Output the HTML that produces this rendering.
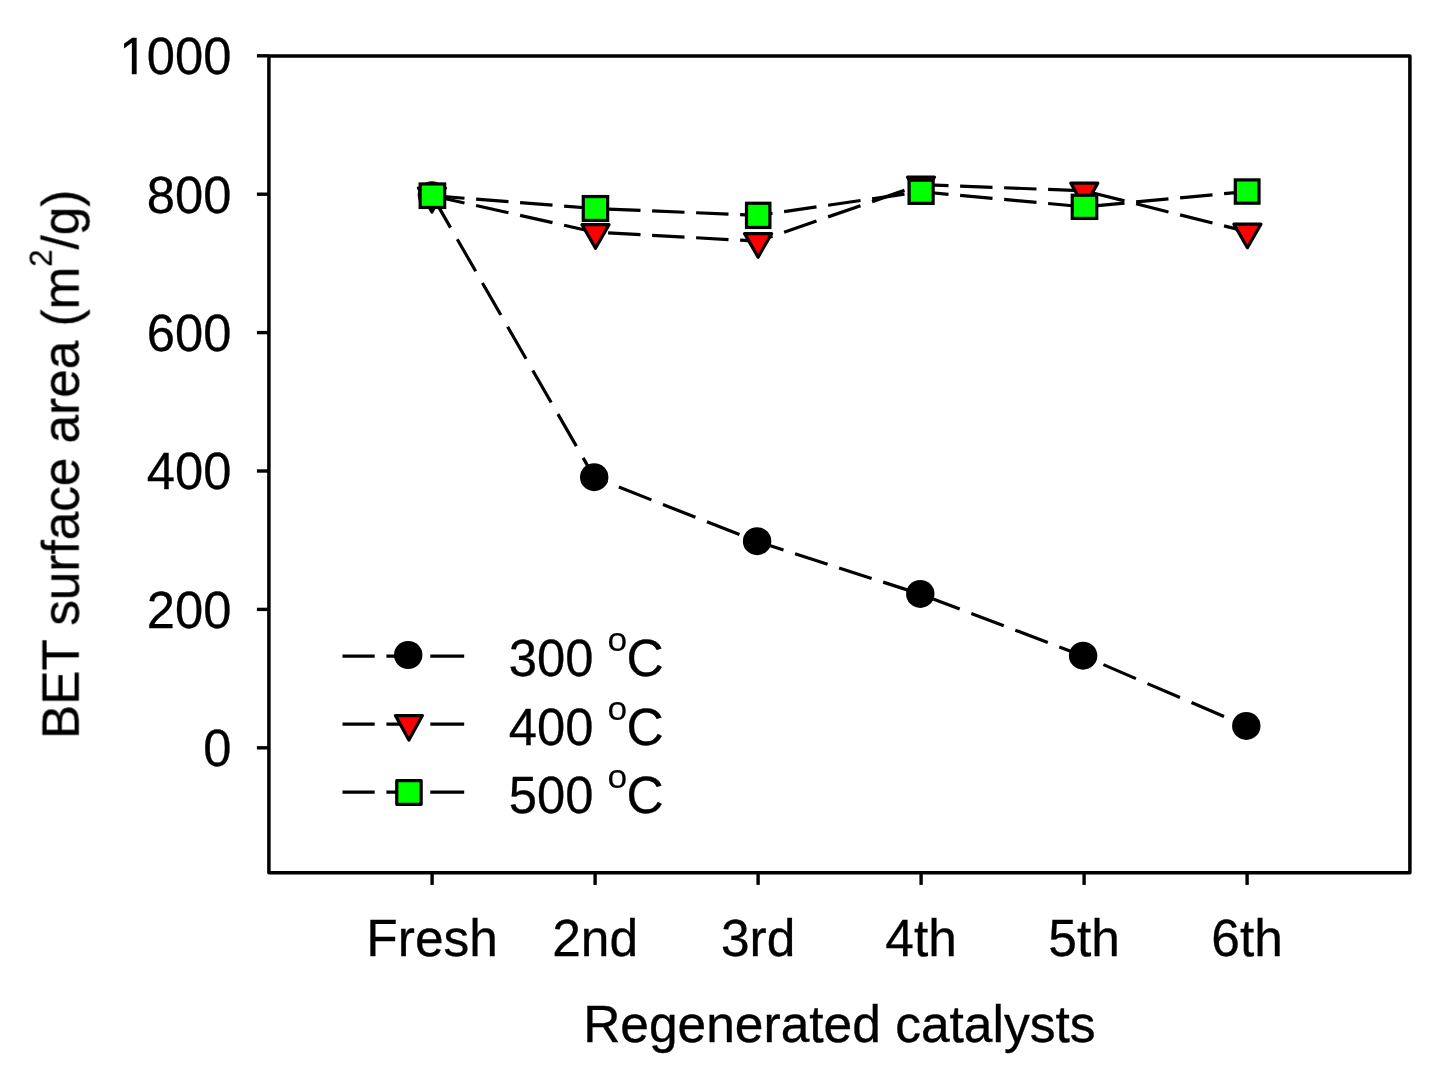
<!DOCTYPE html>
<html lang="en"><head><meta charset="utf-8"><title>BET surface area of regenerated catalysts</title>
<style>
html,body{margin:0;padding:0;background:#fff;}
body{width:1438px;height:1065px;overflow:hidden;}
svg{display:block;}
text{font-family:"Liberation Sans",Arial,Helvetica,sans-serif;fill:#000;stroke:#000;stroke-width:0.5px;}
</style></head><body>
<svg width="1438" height="1065" viewBox="0 0 1438 1065">
<rect x="0" y="0" width="1438" height="1065" fill="#fff"/>
<defs><clipPath id="one"><rect x="100" y="20" width="60" height="49.9"/><rect x="131.8" y="69" width="4.85" height="8"/><rect x="146" y="20" width="100" height="70"/></clipPath></defs>
<g style="will-change:opacity">

<rect x="268.9" y="55.9" width="1141.0" height="816.9" fill="none" stroke="#000" stroke-width="3.5" stroke-linejoin="round"/>
<line x1="256.9" y1="747.8" x2="268.9" y2="747.8" stroke="#000" stroke-width="3.4"/>
<line x1="256.9" y1="609.4" x2="268.9" y2="609.4" stroke="#000" stroke-width="3.4"/>
<line x1="256.9" y1="471.0" x2="268.9" y2="471.0" stroke="#000" stroke-width="3.4"/>
<line x1="256.9" y1="332.6" x2="268.9" y2="332.6" stroke="#000" stroke-width="3.4"/>
<line x1="256.9" y1="194.2" x2="268.9" y2="194.2" stroke="#000" stroke-width="3.4"/>
<line x1="256.9" y1="55.8" x2="268.9" y2="55.8" stroke="#000" stroke-width="3.4"/>
<line x1="432.1" y1="872.8" x2="432.1" y2="884.9" stroke="#000" stroke-width="3.4"/>
<line x1="595.1" y1="872.8" x2="595.1" y2="884.9" stroke="#000" stroke-width="3.4"/>
<line x1="758.1" y1="872.8" x2="758.1" y2="884.9" stroke="#000" stroke-width="3.4"/>
<line x1="921.1" y1="872.8" x2="921.1" y2="884.9" stroke="#000" stroke-width="3.4"/>
<line x1="1084.1" y1="872.8" x2="1084.1" y2="884.9" stroke="#000" stroke-width="3.4"/>
<line x1="1247.1" y1="872.8" x2="1247.1" y2="884.9" stroke="#000" stroke-width="3.4"/>
<text transform="translate(231.4,766.2) scale(0.985,1.02)" font-size="51.5" text-anchor="end" style="stroke-width:0.3px">0</text>
<text transform="translate(231.4,627.8) scale(0.985,1.02)" font-size="51.5" text-anchor="end" style="stroke-width:0.3px">200</text>
<text transform="translate(231.4,489.4) scale(0.985,1.02)" font-size="51.5" text-anchor="end" style="stroke-width:0.3px">400</text>
<text transform="translate(231.4,351.0) scale(0.985,1.02)" font-size="51.5" text-anchor="end" style="stroke-width:0.3px">600</text>
<text transform="translate(231.4,212.6) scale(0.985,1.02)" font-size="51.5" text-anchor="end" style="stroke-width:0.3px">800</text>
<g clip-path="url(#one)"><text transform="translate(119.29,74.2) scale(0.985,1.02)" font-size="51.5" style="stroke-width:0.3px">1<tspan dx="-0.74">000</tspan></text></g>
<text transform="translate(432.1,956.1) scale(1.0,1.001)" font-size="51.5" text-anchor="middle" style="stroke-width:0.3px">Fresh</text>
<text transform="translate(595.1,956.1) scale(1.0,1.001)" font-size="51.5" text-anchor="middle" style="stroke-width:0.3px">2nd</text>
<text transform="translate(758.1,956.1) scale(1.0,1.001)" font-size="51.5" text-anchor="middle" style="stroke-width:0.3px">3rd</text>
<text transform="translate(921.1,956.1) scale(1.0,1.001)" font-size="51.5" text-anchor="middle" style="stroke-width:0.3px">4th</text>
<text transform="translate(1084.1,956.1) scale(1.0,1.001)" font-size="51.5" text-anchor="middle" style="stroke-width:0.3px">5th</text>
<text transform="translate(1247.1,956.1) scale(1.0,1.001)" font-size="51.5" text-anchor="middle" style="stroke-width:0.3px">6th</text>
<text transform="translate(839.3,1042.2) scale(1.0,0.995)" font-size="51.5" text-anchor="middle" style="stroke-width:0.35px">Regenerated catalysts</text>
<text transform="translate(78.7,464.3) rotate(-90) scale(0.9962,1.02)" font-size="51.5" text-anchor="middle" style="stroke-width:0.3px">BET surface area (m<tspan font-size="31" dy="-26.1">2</tspan><tspan dy="26.1">/g)</tspan></text>
<line x1="432.10" y1="195.60" x2="594.40" y2="477.50" stroke="#000" stroke-width="3.2" stroke-dasharray="36.92 13.52" stroke-dashoffset="0.00"/>
<line x1="594.40" y1="477.50" x2="757.30" y2="541.50" stroke="#000" stroke-width="3.2" stroke-dasharray="34.92 12.41" stroke-dashoffset="21.04"/>
<line x1="757.30" y1="541.50" x2="920.50" y2="594.20" stroke="#000" stroke-width="3.2" stroke-dasharray="34.15 12.14" stroke-dashoffset="6.60"/>
<line x1="920.50" y1="594.20" x2="1083.30" y2="656.00" stroke="#000" stroke-width="3.2" stroke-dasharray="34.76 12.35" stroke-dashoffset="39.93"/>
<line x1="1083.30" y1="656.00" x2="1246.50" y2="726.20" stroke="#000" stroke-width="3.2" stroke-dasharray="35.38 12.57" stroke-dashoffset="26.05"/>
<ellipse cx="431.90" cy="195.30" rx="14.2" ry="14.0" fill="#000"/>
<ellipse cx="594.20" cy="477.20" rx="14.2" ry="14.0" fill="#000"/>
<ellipse cx="757.10" cy="541.20" rx="14.2" ry="14.0" fill="#000"/>
<ellipse cx="920.30" cy="593.90" rx="14.2" ry="14.0" fill="#000"/>
<ellipse cx="1083.10" cy="655.70" rx="14.2" ry="14.0" fill="#000"/>
<ellipse cx="1246.30" cy="725.90" rx="14.2" ry="14.0" fill="#000"/>
<line x1="432.10" y1="195.70" x2="595.10" y2="232.20" stroke="#000" stroke-width="3.2" stroke-dasharray="33.20 11.89" stroke-dashoffset="0.00"/>
<line x1="595.10" y1="232.20" x2="758.10" y2="241.17" stroke="#000" stroke-width="3.2" stroke-dasharray="32.45 11.62" stroke-dashoffset="31.05"/>
<line x1="758.10" y1="241.17" x2="921.10" y2="184.62" stroke="#000" stroke-width="3.2" stroke-dasharray="34.29 12.28" stroke-dashoffset="19.05"/>
<line x1="921.10" y1="184.62" x2="1084.10" y2="190.78" stroke="#000" stroke-width="3.2" stroke-dasharray="32.42 11.61" stroke-dashoffset="5.00"/>
<line x1="1084.10" y1="190.78" x2="1247.10" y2="231.67" stroke="#000" stroke-width="3.2" stroke-dasharray="33.40 11.96" stroke-dashoffset="37.12"/>
<polygon points="418.40,188.00 445.40,188.00 431.90,212.00" fill="#ff0000" stroke="#000" stroke-width="3.2" stroke-linejoin="round"/>
<polygon points="582.00,224.60 609.00,224.60 595.50,248.30" fill="#ff0000" stroke="#000" stroke-width="3.2" stroke-linejoin="round"/>
<polygon points="744.60,233.60 771.60,233.60 758.10,257.20" fill="#ff0000" stroke="#000" stroke-width="3.2" stroke-linejoin="round"/>
<polygon points="907.50,177.05 934.50,177.05 921.00,200.65" fill="#ff0000" stroke="#000" stroke-width="3.2" stroke-linejoin="round"/>
<polygon points="1070.80,183.15 1097.80,183.15 1084.30,206.95" fill="#ff0000" stroke="#000" stroke-width="3.2" stroke-linejoin="round"/>
<polygon points="1233.90,224.10 1260.90,224.10 1247.40,247.70" fill="#ff0000" stroke="#000" stroke-width="3.2" stroke-linejoin="round"/>
<line x1="432.10" y1="195.70" x2="595.10" y2="208.50" stroke="#000" stroke-width="3.2" stroke-dasharray="32.50 11.64" stroke-dashoffset="0.00"/>
<line x1="595.10" y1="208.50" x2="758.10" y2="215.35" stroke="#000" stroke-width="3.2" stroke-dasharray="32.43 11.61" stroke-dashoffset="31.03"/>
<line x1="758.10" y1="215.35" x2="921.10" y2="191.76" stroke="#000" stroke-width="3.2" stroke-dasharray="32.74 11.72" stroke-dashoffset="18.19"/>
<line x1="921.10" y1="191.76" x2="1084.10" y2="206.83" stroke="#000" stroke-width="3.2" stroke-dasharray="32.54 11.65" stroke-dashoffset="5.02"/>
<line x1="1084.10" y1="206.83" x2="1247.10" y2="191.55" stroke="#000" stroke-width="3.2" stroke-dasharray="32.54 11.65" stroke-dashoffset="36.16"/>
<rect x="420.15" y="183.95" width="24.5" height="23.5" fill="#00ff00" stroke="#000" stroke-width="3.2" stroke-linejoin="miter"/>
<rect x="583.25" y="196.55" width="24.4" height="23.9" fill="#00ff00" stroke="#000" stroke-width="3.2" stroke-linejoin="miter"/>
<rect x="746.50" y="203.25" width="23.4" height="24.2" fill="#00ff00" stroke="#000" stroke-width="3.2" stroke-linejoin="miter"/>
<rect x="909.08" y="180.16" width="24.05" height="23.2" fill="#00ff00" stroke="#000" stroke-width="3.2" stroke-linejoin="miter"/>
<rect x="1072.25" y="195.23" width="24.5" height="23.2" fill="#00ff00" stroke="#000" stroke-width="3.2" stroke-linejoin="miter"/>
<rect x="1235.30" y="179.90" width="23.7" height="23.3" fill="#00ff00" stroke="#000" stroke-width="3.2" stroke-linejoin="miter"/>
<line x1="342.5" y1="656.1" x2="464.2" y2="656.1" stroke="#000" stroke-width="3.2" stroke-dasharray="32.2 11.7 32.2 11.7 34"/>
<line x1="342.5" y1="724.1" x2="464.2" y2="724.1" stroke="#000" stroke-width="3.2" stroke-dasharray="32.2 11.7 32.2 11.7 34"/>
<line x1="342.5" y1="792.2" x2="464.2" y2="792.2" stroke="#000" stroke-width="3.2" stroke-dasharray="32.2 11.7 32.2 11.7 34"/>
<ellipse cx="408.20" cy="655.00" rx="14.2" ry="14.0" fill="#000"/>
<polygon points="395.40,715.60 422.40,715.60 408.90,740.10" fill="#ff0000" stroke="#000" stroke-width="3.2" stroke-linejoin="round"/>
<rect x="396.75" y="780.60" width="24.4" height="23.7" fill="#00ff00" stroke="#000" stroke-width="3.2" stroke-linejoin="round"/>
<text transform="translate(0,676.3) scale(1,1.02)" font-size="51.5" style="stroke-width:0.3px"><tspan x="508.77" textLength="84.63" lengthAdjust="spacingAndGlyphs">300</tspan> <tspan x="607.4" dy="-24.46" font-size="33" textLength="19.72" lengthAdjust="spacingAndGlyphs" style="stroke-width:0.1px">o</tspan><tspan x="626.45" dy="24.46">C</tspan></text>
<text transform="translate(0,744.5) scale(1,1.02)" font-size="51.5" style="stroke-width:0.3px"><tspan x="508.77" textLength="84.63" lengthAdjust="spacingAndGlyphs">400</tspan> <tspan x="607.4" dy="-24.46" font-size="33" textLength="19.72" lengthAdjust="spacingAndGlyphs" style="stroke-width:0.1px">o</tspan><tspan x="626.45" dy="24.46">C</tspan></text>
<text transform="translate(0,812.7) scale(1,1.02)" font-size="51.5" style="stroke-width:0.3px"><tspan x="508.77" textLength="84.63" lengthAdjust="spacingAndGlyphs">500</tspan> <tspan x="607.4" dy="-24.46" font-size="33" textLength="19.72" lengthAdjust="spacingAndGlyphs" style="stroke-width:0.1px">o</tspan><tspan x="626.45" dy="24.46">C</tspan></text>
</g></svg></body></html>
